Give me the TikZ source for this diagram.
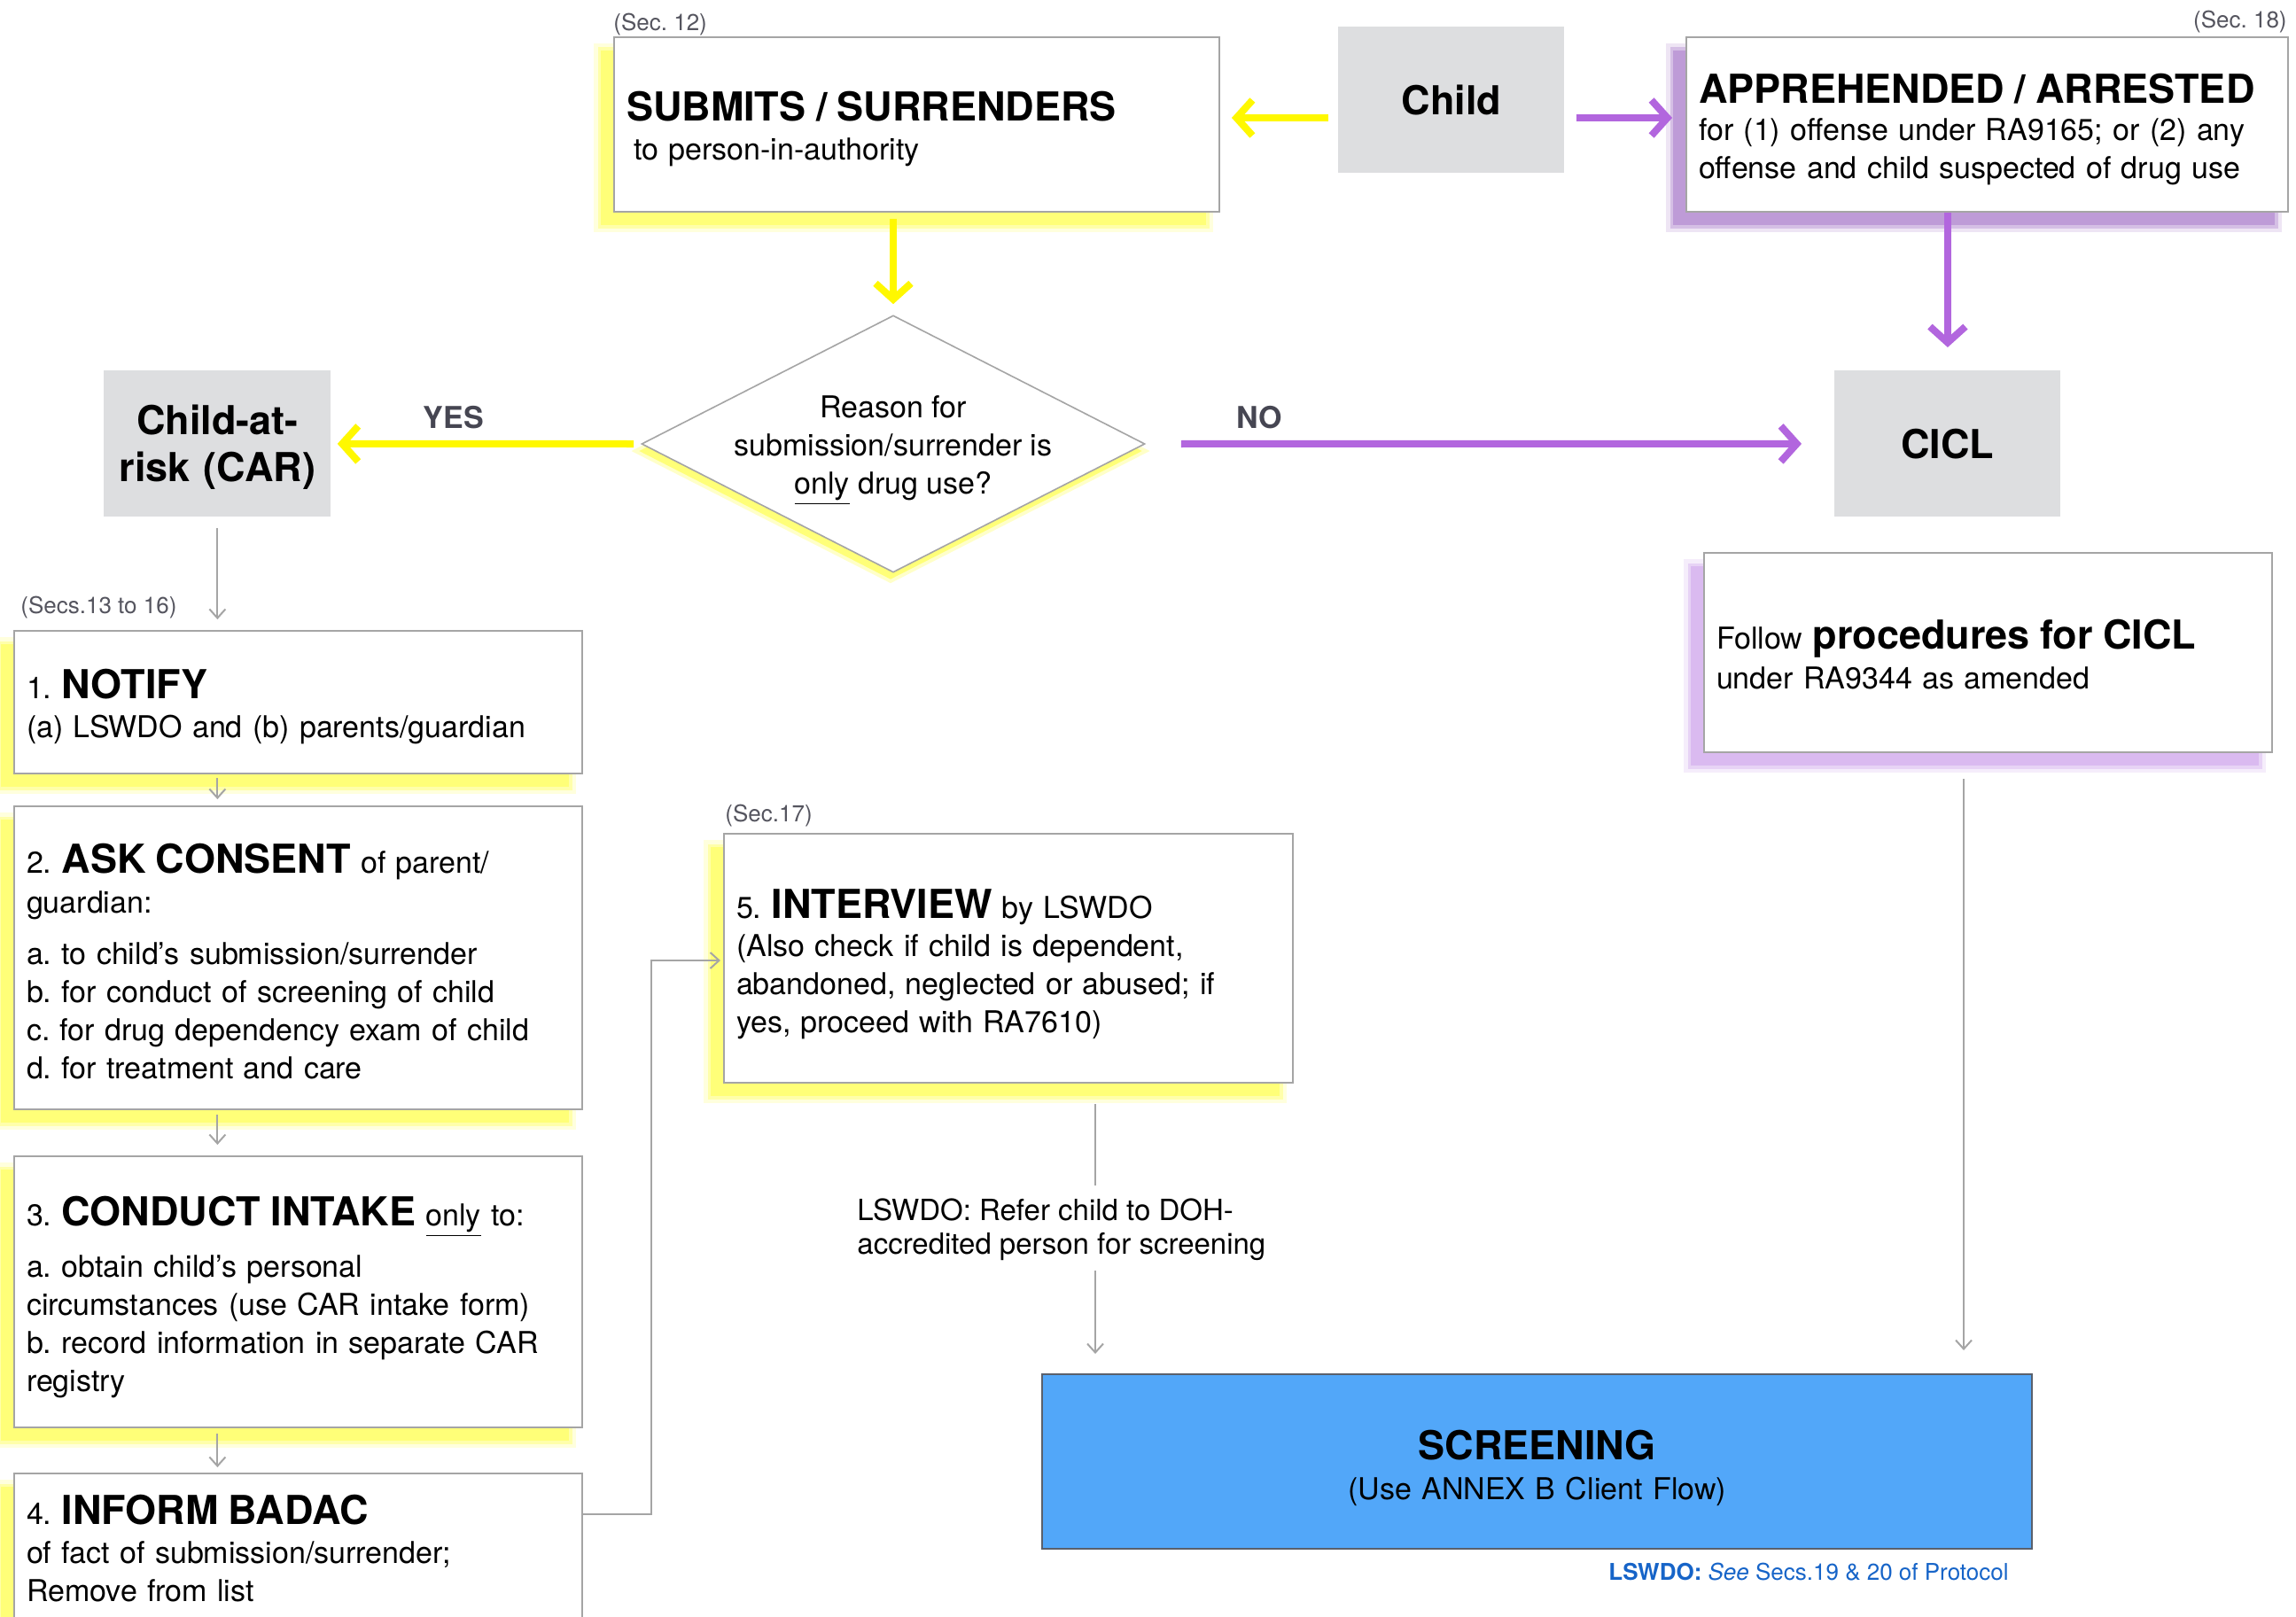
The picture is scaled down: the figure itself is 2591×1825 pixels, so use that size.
\documentclass[tikz,border=0pt]{standalone}
\usepackage{fontspec}
\setmainfont{TeX Gyre Heros}
\usetikzlibrary{arrows.meta,shapes.geometric,calc}
\definecolor{yel}{RGB}{255,248,0}
\definecolor{yshc}{RGB}{255,255,120}
\definecolor{purp}{RGB}{178,102,222}
\definecolor{pshA}{RGB}{190,155,215}
\definecolor{pshB}{RGB}{218,186,240}
\definecolor{grayfill}{RGB}{221,222,224}
\definecolor{boxline}{RGB}{165,165,165}
\definecolor{arrgray}{RGB}{165,165,165}
\definecolor{scrfill}{RGB}{82,167,249}
\definecolor{scrline}{RGB}{90,96,108}
\definecolor{secgray}{RGB}{85,85,95}
\definecolor{yngray}{RGB}{70,70,82}
\definecolor{fblue}{RGB}{22,100,200}
\newcommand\ttlf{\fontsize{22.5pt}{27pt}\selectfont\bfseries}
\newcommand\bodyf{\fontsize{17pt}{21.5pt}\selectfont}
\newcommand\smallf{\fontsize{13pt}{15pt}\selectfont}
\newcommand\lblf{\fontsize{16.5pt}{19pt}\selectfont}
\newcommand\fstrut[1]{\rule{0pt}{#1}}
\begin{document}
\frenchspacing
\begin{tikzpicture}[x=0.5pt,y=-0.5pt,
  box/.style={draw=boxline, line width=1pt, fill=white, anchor=north west,
    inner xsep=7pt, inner ysep=0pt, align=left, font=\bodyf},
  graybox/.style={fill=grayfill, anchor=north west, align=center, font=\ttlf,
    inner sep=0pt, minimum height=82.5pt},
  shadowfx/.style={preaction={fill=#1, draw=#1, draw opacity=0.25, line width=8pt,
      transform canvas={shift={(-7.5pt,-7.5pt)}}},
    preaction={fill=#1, draw=#1, draw opacity=0.5, line width=3.5pt,
      transform canvas={shift={(-7.5pt,-7.5pt)}}}},
  yshadow/.style={shadowfx=yshc},
  yarr/.style={draw=yel, line width=4pt, -{Straight Barb[length=9pt,width=20pt]}},
  parr/.style={draw=purp, line width=4pt, -{Straight Barb[length=9pt,width=20pt]}},
  garr/.style={draw=arrgray, line width=1pt, -{Straight Barb[length=5pt,width=9pt]}},
  gline/.style={draw=arrgray, line width=1pt},
  sec/.style={font=\smallf, text=secgray, inner sep=0pt},
]
\useasboundingbox (0,0) rectangle (2591,1825);
\fill[white] (0,0) rectangle (2591,1825);

% top row
\node[sec, anchor=west] (sec12) at (692,28) {(Sec. 12)};
\node[sec, anchor=east] (sec18) at (2581,25) {(Sec. 18)};
\node[box, yshadow, minimum width=341.5pt, text width=327.5pt, minimum height=98.5pt] (sub) at (692,41)
  {{\ttlf SUBMITS / SURRENDERS}\fstrut{22pt}\\[0.5pt]\hspace*{4pt}to person-in-authority};
\node[graybox, minimum width=127.5pt] (child) at (1510,30) {Child};
\node[box, shadowfx=pshA, minimum width=339.5pt, text width=325.5pt, minimum height=98.5pt] (app) at (1902,41)
  {{\ttlf APPREHENDED / ARRESTED}\fstrut{22pt}\\[-0.5pt]for (1) offense under RA9165; or (2) any\\offense and child suspected of drug use};

% decision row
\node[diamond, draw=boxline, line width=0.8pt, fill=white, inner sep=0pt,
  minimum width=284pt, minimum height=145pt,
  preaction={fill=yshc, draw=yshc, draw opacity=0.4, line width=4pt, transform canvas={shift={(-1.5pt,-4pt)}}}] (q) at (1008,501) {};
\node[font=\bodyf, align=center] (qt) at (1008,508) {Reason for\\submission/surrender is\\\underline{only} drug use?};
\node[graybox, minimum width=128pt, text width=128pt] (car) at (117,418) {\fstrut{21pt}Child-at-\\[-0.5pt]risk (CAR)};
\node[graybox, minimum width=127.5pt] (cicl) at (2070,418) {CICL};
\node[font=\fontsize{17pt}{20pt}\selectfont\bfseries, text=yngray] (yes) at (512,471) {YES};
\node[font=\fontsize{17pt}{20pt}\selectfont\bfseries, text=yngray] (no) at (1421,471) {NO};

% left column
\node[sec, anchor=west] (sec13) at (23,686) {(Secs.13 to 16)};
\node[box, yshadow, minimum width=320.5pt, text width=306.5pt, minimum height=80.5pt] (notify) at (15,711)
  {1. {\ttlf NOTIFY}\fstrut{22pt}\\[0.5pt](a) LSWDO and (b) parents/guardian};
\node[box, yshadow, minimum width=320.5pt, text width=306.5pt, minimum height=171pt] (ask) at (15,909)
  {2. {\ttlf ASK CONSENT} of parent/\fstrut{21pt}\\[1pt]guardian:\\[7.5pt]a. to child’s submission/surrender\\b. for conduct of screening of child\\c. for drug dependency exam of child\\d. for treatment and care};
\node[box, yshadow, minimum width=320.5pt, text width=306.5pt, minimum height=153pt] (intake) at (15,1304)
  {3. {\ttlf CONDUCT INTAKE} \underline{only} to:\fstrut{23pt}\\[7.5pt]a. obtain child’s personal\\circumstances (use CAR intake form)\\b. record information in separate CAR\\registry};
\node[box, yshadow, minimum width=320.5pt, text width=306.5pt, minimum height=84.5pt] (badac) at (15,1662)
  {4. {\ttlf INFORM BADAC}\\[0.5pt]of fact of submission/surrender;\\Remove from list};

% interview
\node[sec, anchor=west] (sec17) at (818,921) {(Sec.17)};
\node[box, yshadow, minimum width=321pt, text width=307pt, minimum height=140.5pt] (interview) at (816,940)
  {5. {\ttlf INTERVIEW} by LSWDO\fstrut{23pt}\\[0pt](Also check if child is dependent,\\abandoned, neglected or abused; if\\yes, proceed with RA7610)};
\node[font=\lblf, align=left, anchor=west, inner sep=0pt] (refer) at (967,1388)
  {LSWDO: Refer child to DOH-\\accredited person for screening};

% right column
\node[box, shadowfx=pshB, minimum width=320.5pt, text width=306.5pt, minimum height=112.5pt] (follow) at (1922,623)
  {Follow {\ttlf procedures for CICL}\fstrut{19pt}\\[1pt]under RA9344 as amended};

% screening
\node[draw=scrline, line width=1.2pt, fill=scrfill, anchor=north west, align=center, inner sep=0pt,
  minimum width=558.5pt, text width=558.5pt, minimum height=98.5pt, font=\bodyf] (screening) at (1175,1550)
  {{\ttlf SCREENING}\fstrut{24pt}\\[1pt](Use ANNEX B Client Flow)};
\node[font=\smallf, text=fblue, anchor=east, inner sep=0pt] (note) at (2267,1774)
  {\textbf{LSWDO:} \textit{See} Secs.19 \& 20 of Protocol};

% helper coordinates
\coordinate (ya) at (0,133);
\coordinate (j1) at (735,1709);
\coordinate (j2) at (735,1084);
\coordinate (m1) at (1236,1338);
\coordinate (m2) at (1236,1434);
\coordinate (m3) at (2216,0);

% coloured connectors
\draw[yarr, shorten <=5.5pt, shorten >=6.5pt] (child.west |- ya) -- (sub.east |- ya);
\draw[parr, shorten <=6.5pt, shorten >=7.5pt] (child.east |- ya) -- (app.west |- ya);
\draw[yarr, shorten <=3.5pt, shorten >=6pt] (sub.south -| q.north) -- (q.north);
\draw[yarr, shorten <=4pt, shorten >=3.5pt] (q.west) -- (car.east);
\draw[parr, shorten <=20pt, shorten >=18.5pt] (q.east) -- (cicl.west);
\draw[parr, shorten >=13pt] (app.south -| cicl.north) -- (cicl.north);

% gray connectors
\draw[garr, shorten <=6pt, shorten >=6pt] (car.south) -- (car.south |- notify.north);
\draw[garr, shorten <=2pt, shorten >=3.5pt] (notify.south -| car.south) -- (ask.north -| car.south);
\draw[garr, shorten <=2.5pt, shorten >=6pt] (ask.south -| car.south) -- (intake.north -| car.south);
\draw[garr, shorten <=3pt, shorten >=3pt] (intake.south -| car.south) -- (badac.north -| car.south);
\draw[garr, shorten >=1.5pt] (badac.east |- j1) -- (j1) -- (j2) -- (interview.west |- j2);
\draw[gline, shorten <=11.5pt] (interview.south -| m1) -- (m1);
\draw[garr, shorten >=11pt] (m2) -- (screening.north -| m2);
\draw[garr, shorten <=14.5pt, shorten >=13pt] (follow.south -| m3) -- (screening.north -| m3);
\end{tikzpicture}
\end{document}
